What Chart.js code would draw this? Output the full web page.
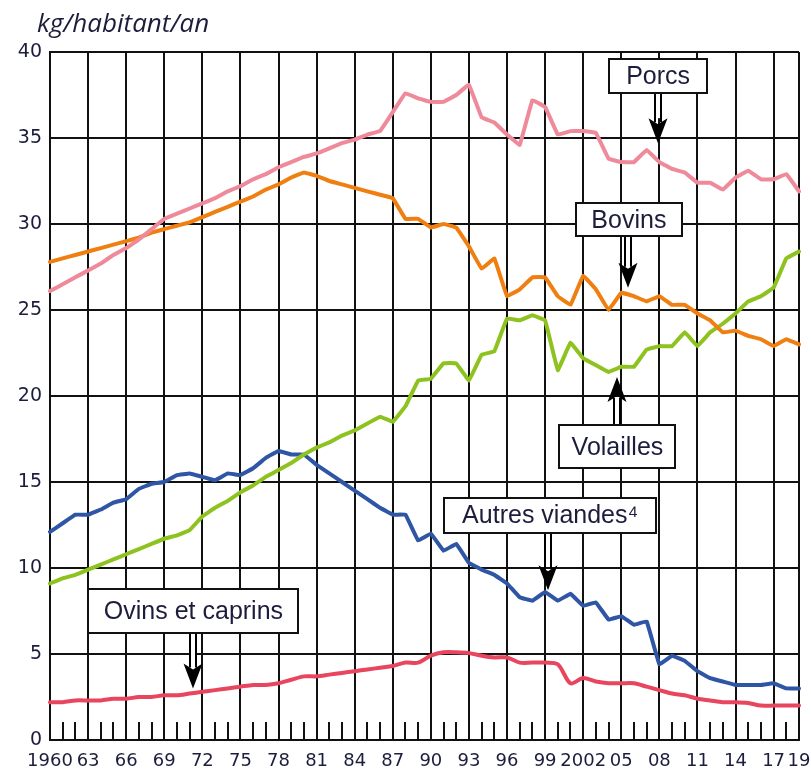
<!DOCTYPE html>
<html>
<head>
<meta charset="utf-8">
<script src="https://cdn.jsdelivr.net/npm/chart.js@4"></script>
<style>
  html, body { margin: 0; padding: 0; background: #fff; }
  #wrap { position: relative; width: 811px; height: 771px; overflow: hidden; }
  #titre { position: absolute; left: 37px; top: 5px; font: italic 26px "Open Sans", sans-serif; line-height: 34px; color: #1c1c3c; }
</style>
</head>
<body>
<div id="wrap">
  <div id="titre">kg/habitant/an</div>
  <canvas id="graphe" width="811" height="771"></canvas>
</div>
<script>
// annees (categories)
const annees = [1960, 1961, 1962, 1963, 1964, 1965, 1966, 1967, 1968, 1969,
                1970, 1971, 1972, 1973, 1974, 1975, 1976, 1977, 1978, 1979,
                1980, 1981, 1982, 1983, 1984, 1985, 1986, 1987, 1988, 1989,
                1990, 1991, 1992, 1993, 1994, 1995, 1996, 1997, 1998, 1999,
                2000, 2001, 2002, 2003, 2004, 2005, 2006, 2007, 2008, 2009,
                2010, 2011, 2012, 2013, 2014, 2015, 2016, 2017, 2018, 2019];

// series en kg/habitant/an
const porcs = [26.1, 26.5, 26.9, 27.3, 27.7, 28.2, 28.6, 29.1, 29.7, 30.3,
               30.6, 30.9, 31.2, 31.5, 31.9, 32.2, 32.6, 32.9, 33.3, 33.6,
               33.9, 34.1, 34.4, 34.7, 34.9, 35.2, 35.4, 36.5, 37.6, 37.3,
               37.1, 37.1, 37.5, 38.1, 36.2, 35.9, 35.2, 34.6, 37.2, 36.8,
               35.2, 35.4, 35.4, 35.3, 33.8, 33.6, 33.6, 34.3, 33.6, 33.2,
               33.0, 32.4, 32.4, 32.0, 32.7, 33.1, 32.6, 32.6, 32.9, 31.9];
const bovins = [27.8, 28.0, 28.2, 28.4, 28.6, 28.8, 29.0, 29.2, 29.5, 29.7,
                29.9, 30.1, 30.4, 30.7, 31.0, 31.3, 31.6, 32.0, 32.3, 32.7,
                33.0, 32.8, 32.5, 32.3, 32.1, 31.9, 31.7, 31.5, 30.3, 30.3,
                29.8, 30.0, 29.8, 28.7, 27.4, 28.0, 25.8, 26.2, 26.9, 26.9,
                25.8, 25.3, 27.0, 26.2, 25.0, 26.0, 25.8, 25.5, 25.8, 25.3,
                25.3, 24.8, 24.4, 23.7, 23.8, 23.5, 23.3, 22.9, 23.3, 23.0];
const volailles = [9.1, 9.4, 9.6, 9.9, 10.2, 10.5, 10.8, 11.1, 11.4, 11.7,
                   11.9, 12.2, 13.0, 13.5, 13.9, 14.4, 14.8, 15.3, 15.7, 16.1,
                   16.6, 17.0, 17.3, 17.7, 18.0, 18.4, 18.8, 18.5, 19.4, 20.9,
                   21.0, 21.9, 21.9, 20.9, 22.4, 22.6, 24.5, 24.4, 24.7, 24.4,
                   21.5, 23.1, 22.2, 21.8, 21.4, 21.7, 21.7, 22.7, 22.9, 22.9,
                   23.7, 22.9, 23.7, 24.2, 24.8, 25.5, 25.8, 26.3, 28.0, 28.4];
const autresViandes = [12.1, 12.6, 13.1, 13.1, 13.4, 13.8, 14.0, 14.6, 14.9, 15.0,
                       15.4, 15.5, 15.3, 15.1, 15.5, 15.4, 15.8, 16.4, 16.8, 16.6,
                       16.6, 16.0, 15.5, 15.0, 14.5, 14.0, 13.5, 13.1, 13.1, 11.6,
                       12.0, 11.0, 11.4, 10.3, 9.9, 9.6, 9.1, 8.3, 8.1, 8.6,
                       8.1, 8.5, 7.8, 8.0, 7.0, 7.2, 6.7, 6.9, 4.4, 4.9,
                       4.6, 4.0, 3.6, 3.4, 3.2, 3.2, 3.2, 3.3, 3.0, 3.0];
const ovins = [2.2, 2.2, 2.3, 2.3, 2.3, 2.4, 2.4, 2.5, 2.5, 2.6,
               2.6, 2.7, 2.8, 2.9, 3.0, 3.1, 3.2, 3.2, 3.3, 3.5,
               3.7, 3.7, 3.8, 3.9, 4.0, 4.1, 4.2, 4.3, 4.5, 4.5,
               4.9, 5.1, 5.1, 5.05, 4.9, 4.8, 4.8, 4.5, 4.5, 4.5,
               4.4, 3.3, 3.6, 3.4, 3.3, 3.3, 3.3, 3.1, 2.9, 2.7,
               2.6, 2.4, 2.3, 2.2, 2.2, 2.15, 2.0, 2.0, 2.0, 2.0];

// etiquettes de l'axe horizontal
const anneesEtiquetees = [1960, 1963, 1966, 1969, 1972, 1975, 1978, 1981, 1984, 1987, 1990,
                          1993, 1996, 1999, 2002, 2005, 2008, 2011, 2014, 2017, 2019];
const etiquettesX = ['1960', '63', '66', '69', '72', '75', '78', '81', '84', '87', '90',
                     '93', '96', '99', '2002', '05', '08', '11', '14', '17', '19'];

// encadres avec fleche : [texte, annee cadre, valeur cadre, largeur, hauteur, annee pointe, valeur pointe]
const encadres = [
  ['Porcs', 2007.9, 38.6, 98, 34, 2007.9, 34.7],
  ['Bovins', 2005.6, 30.25, 106, 33, 2005.5, 26.3],
  ['Volailles', 2004.7, 17.05, 116, 43, 2004.7, 21.1],
  ['Autres viandes\u2074', 1999.4, 13.05, 212, 35, 1999.2, 8.7],
  ['Ovins et caprins', 1971.3, 7.5, 210, 44, 1971.3, 3.0]
];

// la grille verticale n'est tracee que tous les 3 ans
const grilleX = ctx => {
  const a = annees[ctx.index];
  return ((a - 1960) % 3 === 0 || a === 2019) ? '#111' : 'rgba(0,0,0,0)';
};

// position en pixels d'une annee (fractionnaire) sur l'axe des categories
function pxAnnee(echelle, a) {
  const i = Math.floor(a - 1960);
  const p0 = echelle.getPixelForValue(i);
  const p1 = echelle.getPixelForValue(Math.min(i + 1, annees.length - 1));
  return p0 + (p1 - p0) * (a - 1960 - i);
}

const petitesGraduations = {
  id: 'petitesGraduations',
  beforeDatasetsDraw(chart) {
    const c = chart.ctx, x = chart.scales.x, bas = chart.chartArea.bottom;
    c.save();
    c.strokeStyle = '#111';
    c.lineWidth = 2;
    annees.forEach((a, i) => {
      if ((a - 1960) % 3 === 0 || a === 2019) return;
      const px = Math.round(x.getPixelForValue(i));
      c.beginPath();
      c.moveTo(px, bas);
      c.lineTo(px, bas - 18);
      c.stroke();
    });
    c.restore();
  }
};

const fleches = {
  id: 'fleches',
  afterDatasetsDraw(chart) {
    const c = chart.ctx, x = chart.scales.x, y = chart.scales.y;
    c.save();
    encadres.forEach(([texte, ab, vb, l, h, ap, vp]) => {
      const cx = pxAnnee(x, ab), cy = y.getPixelForValue(vb);
      const tx = Math.round(pxAnnee(x, ap)), ty = y.getPixelForValue(vp);
      const gauche = Math.round(cx - l / 2), haut = Math.round(cy - h / 2);
      // direction de la fleche
      const vers_bas = ty > cy;
      const depart = vers_bas ? haut + h : haut;
      const sens = vers_bas ? 1 : -1;
      const baseTete = ty - sens * 25;
      // fut double
      c.strokeStyle = '#000';
      c.lineWidth = 2;
      c.fillStyle = '#fff';
      c.fillRect(tx - 2, Math.min(depart, baseTete), 4, Math.abs(baseTete - depart));
      [-3, 3].forEach(d => {
        c.beginPath();
        c.moveTo(tx + d, depart);
        c.lineTo(tx + d, baseTete + sens * 4);
        c.stroke();
      });
      // tete
      c.fillStyle = '#000';
      c.beginPath();
      c.moveTo(tx, ty);
      c.lineTo(tx - 9.5, baseTete);
      c.lineTo(tx, baseTete + sens * 6);
      c.lineTo(tx + 9.5, baseTete);
      c.closePath();
      c.fill();
      // cadre
      c.fillStyle = '#fff';
      c.fillRect(gauche, haut, l, h);
      c.lineWidth = 2;
      c.strokeStyle = '#111';
      c.strokeRect(gauche, haut, l, h);
      c.fillStyle = '#1c1c3c';
      c.font = '25px "Liberation Sans", Arial, sans-serif';
      c.textAlign = 'center';
      c.textBaseline = 'middle';
      c.fillText(texte, cx, cy + 1);
    });
    c.restore();
  }
};

new Chart(document.getElementById('graphe'), {
  type: 'line',
  data: {
    labels: annees,
    datasets: [
      { label: 'Porcs', data: porcs, borderColor: '#EE8A9A' },
      { label: 'Bovins', data: bovins, borderColor: '#F07F12' },
      { label: 'Volailles', data: volailles, borderColor: '#8DC21F' },
      { label: 'Autres viandes', data: autresViandes, borderColor: '#2F55A5' },
      { label: 'Ovins et caprins', data: ovins, borderColor: '#E8455E', tension: 0.3 }
    ]
  },
  options: {
    responsive: false,
    animation: false,
    layout: { padding: { top: 52, right: 12, left: 0, bottom: 0 } },
    elements: {
      point: { radius: 0 },
      line: { borderWidth: 4, tension: 0.05, borderJoinStyle: 'round', borderCapStyle: 'round' }
    },
    plugins: {
      legend: { display: false },
      tooltip: { enabled: false }
    },
    scales: {
      x: {
        offset: false,
        border: { display: true, color: '#111', width: 2 },
        grid: { color: grilleX, lineWidth: 2, drawTicks: false },
        afterFit: s => { s.height = 31; s.paddingLeft = 0; s.paddingRight = 0; },
        ticks: {
          autoSkip: false,
          maxRotation: 0,
          padding: 11,
          color: '#1c1c3c',
          font: { family: '"DejaVu Sans", sans-serif', size: 18 },
          callback: function (val, i) {
            const k = anneesEtiquetees.indexOf(annees[i]);
            return k >= 0 ? etiquettesX[k] : '';
          }
        }
      },
      y: {
        min: 0,
        max: 40,
        border: { display: true, color: '#111', width: 2 },
        grid: { color: '#111', lineWidth: 2, drawTicks: false },
        afterFit: s => { s.width = 50; },
        ticks: {
          stepSize: 5,
          padding: 8,
          color: '#1c1c3c',
          font: { family: '"DejaVu Sans", sans-serif', size: 19 }
        }
      }
    }
  },
  plugins: [petitesGraduations, fleches]
});
</script>
</body>
</html>
